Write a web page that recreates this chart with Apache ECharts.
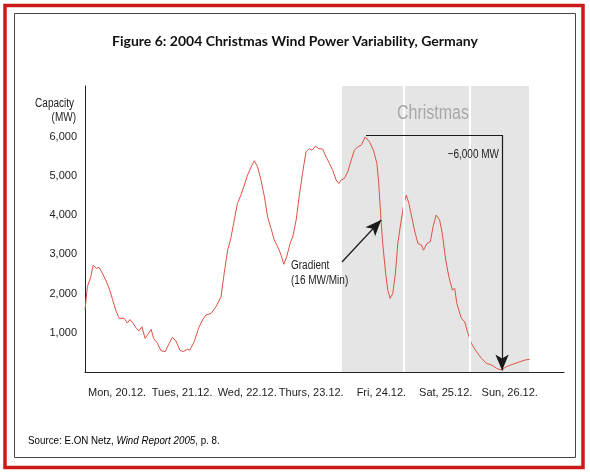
<!DOCTYPE html>
<html>
<head>
    <meta charset="utf-8" />
    <title>Christmas Wind Power Variability</title>
    <script src="https://cdn.jsdelivr.net/npm/echarts@6/dist/echarts.min.js"></script>
    <style>
        html, body { margin: 0; padding: 0; background: #fff; }
        #chart { width: 590px; height: 474px; }
    </style>
</head>
<body>
    <div id="chart"></div>
    <script>
        // hours since Mon 20.12. 00:00
        var hours = [0, 0.9, 2.2, 3.1, 4.3, 5.3, 6.3, 7.8, 9.1, 10.3, 11.6, 12.9, 14.8, 15.4, 16.0, 17.0, 18.2, 19.4, 20.4, 21.5,
            22.7, 24.0, 25.0, 25.9, 27.4, 28.7, 30.3, 31.8, 33.0, 34.3, 35.8, 37.1, 38.7, 39.6, 41.3, 42.9, 44.4, 45.7, 47.6, 49.5,
            51.4, 52.6, 53.9, 55.1, 56.4, 57.6, 58.9, 60.2, 61.4, 63.1, 64.0, 65.2, 66.5, 67.8, 69.0, 70.3, 71.5, 72.8, 74.1, 75.1,
            76.2, 77.5, 78.5, 79.8, 81.0, 82.2, 83.5, 84.8, 85.8, 87.1, 88.3, 89.8, 91.1, 92.4, 93.6, 94.9, 95.9, 96.8, 98.0, 99.3,
            100.6, 101.8, 103.1, 104.4, 105.9, 107.5, 109.0, 110.3, 111.0, 111.7, 112.5, 113.6, 114.4, 115.3, 116.3, 117.3, 118.2, 119.5, 120.5, 121.4,
            122.4, 123.7, 124.5, 125.8, 127.1, 127.9, 129.2, 130.5, 131.5, 132.7, 134.0, 135.0, 136.3, 137.5, 138.8, 139.7, 140.5, 142.2, 143.5, 144.7,
            146.0, 147.9, 149.8, 151.7, 153.6, 155.5, 157.3, 159.2, 161.7, 164.3, 166.2, 168.0];
        var capacity = [1580, 2180, 2430, 2730, 2645, 2670, 2560, 2350, 2140, 1880, 1580, 1370, 1370, 1340, 1250, 1340, 1240, 1115, 1050, 1155,
            860, 985, 1090, 860, 730, 545, 520, 730, 885, 800, 560, 520, 580, 560, 775, 1115, 1330, 1455, 1495, 1665,
            1920, 2520, 3110, 3410, 3880, 4300, 4515, 4770, 5025, 5280, 5390, 5240, 4900, 4470, 3960, 3665, 3370, 3200, 2985, 2750,
            2940, 3280, 3450, 3880, 4515, 5070, 5620, 5700, 5660, 5765, 5700, 5690, 5490, 5320, 5150, 4900, 4810, 4900, 4940, 5110,
            5410, 5660, 5750, 5790, 6000, 5875, 5660, 5320, 4810, 4050, 3280, 2520, 2090, 1880, 2005, 2520, 3280, 3880, 4300, 4515,
            4300, 3880, 3620, 3280, 3240, 3110, 3280, 3325, 3705, 4005, 3880, 3540, 2860, 2430, 2090, 2135, 1750, 1370, 1280, 985,
            730, 520, 350, 220, 180, 95, 50, 135, 200, 260, 305, 325];

        var dayLabels = ['Mon, 20.12.', 'Tues, 21.12.', 'Wed, 22.12.', 'Thurs, 23.12.', 'Fri, 24.12.', 'Sat, 25.12.', 'Sun, 26.12.'];
        var dayLabelHours = [12.1, 36.7, 61.3, 85.5, 112, 136.3, 160.5];
        var yTicks = [1000, 2000, 3000, 4000, 5000, 6000];

        // Christmas shading (hours) and the white day dividers inside it
        var christmasBand = [97.1, 167.8];
        var christmasDividers = [120.6, 145.5];

        // annotation anchors [hour, MW]
        var dropFrom = [106.2, 6050];
        var dropTo = [157.6, 40];
        var gradientTail = [97.1, 2808];
        var gradientHead = [111.9, 3880];

        var sans = "'Liberation Sans', Arial, sans-serif";
        var squeeze = 0.8; // the original uses a condensed face

        var points = [];
        for (var i = 0; i < hours.length; i++) {
            points.push([hours[i], capacity[i]]);
        }

        function note(text, x, y, align, size, color) {
            return {
                type: 'text', x: x, y: y, z: 100, scaleX: squeeze, originX: 0,
                style: {
                    text: text, font: size + 'px ' + sans, fill: color || '#222',
                    align: align, verticalAlign: 'middle'
                }
            };
        }

        var chart = echarts.init(document.getElementById('chart'));

        var option = {
            animation: false,
            grid: { left: 85, right: 26, top: 86, bottom: 102 },
            xAxis: {
                type: 'value',
                min: 0,
                max: 181,
                splitLine: { show: false },
                axisTick: { show: false },
                axisLine: { lineStyle: { color: '#222', width: 1 } },
                axisLabel: {
                    customValues: dayLabelHours,
                    margin: 15,
                    color: '#222',
                    fontSize: 11,
                    fontFamily: sans,
                    formatter: function (v) {
                        var idx = dayLabelHours.indexOf(v);
                        return idx >= 0 ? dayLabels[idx] : '';
                    }
                }
            },
            yAxis: {
                type: 'value',
                min: 0,
                max: 7300,
                interval: 1000,
                splitLine: { show: false },
                axisTick: { show: false },
                axisLine: { show: true, lineStyle: { color: '#222', width: 1 } },
                axisLabel: {
                    margin: 8,
                    color: '#222',
                    fontSize: 11,
                    fontFamily: sans,
                    formatter: function (v) {
                        if (yTicks.indexOf(v) < 0) return '';
                        return v.toLocaleString('en-US');
                    }
                }
            },
            series: [
                {
                    // background shading only
                    type: 'line',
                    data: [],
                    z: 1,
                    silent: true,
                    markArea: {
                        silent: true,
                        itemStyle: { color: '#e5e5e5' },
                        data: [[{ xAxis: christmasBand[0], yAxis: 0 }, { xAxis: christmasBand[1], yAxis: 7300 }]]
                    },
                    markLine: {
                        silent: true,
                        symbol: 'none',
                        label: { show: false },
                        lineStyle: { color: '#fff', width: 2, type: 'solid' },
                        data: christmasDividers.map(function (h) {
                            return [{ coord: [h, 0] }, { coord: [h, 7300] }];
                        })
                    }
                },
                {
                    name: 'Capacity',
                    type: 'line',
                    data: points,
                    z: 3,
                    showSymbol: false,
                    lineStyle: { color: '#dd5244', width: 1 },
                    markLine: {
                        silent: true,
                        label: { show: false },
                        symbol: ['none', 'arrow'],
                        symbolSize: [10, 16],
                        lineStyle: { color: '#1a1a1a', width: 1.2, type: 'solid' },
                        data: [
                            [{ coord: dropFrom, symbol: 'none' }, { coord: [dropTo[0], dropFrom[1]], symbol: 'none' }],
                            [{ coord: [dropTo[0], dropFrom[1]], symbol: 'none' }, { coord: dropTo, symbol: 'arrow', symbolSize: [10, 16] }],
                            [{ coord: gradientTail, symbol: 'none' }, { coord: gradientHead, symbol: 'arrow', symbolSize: [10, 16] }]
                        ]
                    }
                }
            ],
            graphic: [
                {
                    type: 'rect', z: -10, silent: true,
                    shape: { x: 5, y: 5.5, width: 578, height: 462 },
                    style: { fill: 'none', stroke: '#cc1a1a', lineWidth: 3.5 }
                },
                {
                    type: 'rect', z: -10, silent: true,
                    shape: { x: 14.5, y: 13.5, width: 561, height: 444 },
                    style: { fill: 'none', stroke: '#444', lineWidth: 1 }
                },
                {
                    type: 'text', left: 'center', top: 34, z: 100,
                    style: {
                        text: 'Figure 6: 2004 Christmas Wind Power Variability, Germany',
                        font: 'bold 14px Lato, "Open Sans", sans-serif', fill: '#111'
                    }
                },
                note('Capacity', 74, 104, 'right', 12.5),
                note('(MW)', 76, 118, 'right', 12.5),
                note('Christmas', 433, 113, 'center', 20, '#a8a8a8'),
                note('\u22126,000 MW', 499, 155, 'right', 12.5),
                note('Gradient', 291, 266, 'left', 12.5),
                note('(16 MW/Min)', 291, 281, 'left', 12.5),
                {
                    type: 'text', x: 28, y: 441, z: 100, scaleX: 0.85, originX: 0,
                    style: {
                        text: '{n|Source: E.ON Netz, }{i|Wind Report 2005}{n|, p. 8.}',
                        verticalAlign: 'middle',
                        rich: {
                            n: { fontSize: 11.5, fontFamily: sans, color: '#222' },
                            i: { fontSize: 11.5, fontFamily: sans, fontStyle: 'italic', color: '#222' }
                        }
                    }
                }
            ]
        };

        chart.setOption(option);
    </script>
</body>
</html>
